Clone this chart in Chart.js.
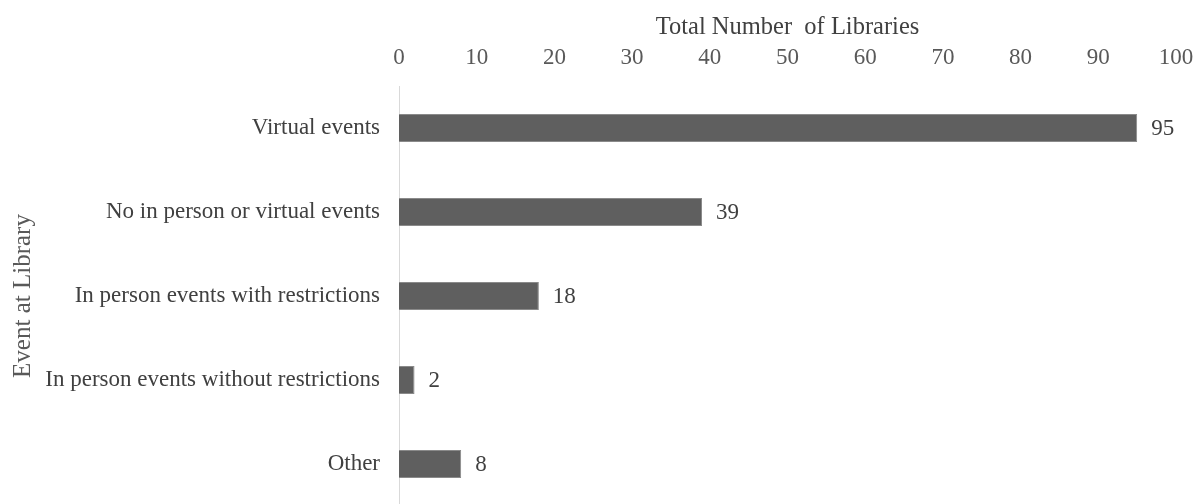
<!DOCTYPE html>
<html>
<head>
<meta charset="utf-8">
<script src="https://cdn.jsdelivr.net/npm/chart.js@4/dist/chart.umd.min.js"></script>
<style>
  html, body { margin: 0; padding: 0; background: #fff; overflow: hidden; }
  #wrap { width: 1197px; height: 508px; }
</style>
</head>
<body>
<div id="wrap"><canvas id="eventsChart"></canvas></div>
<script>
const categories = [
    'Virtual events',
    'No in person or virtual events',
    'In person events with restrictions',
    'In person events without restrictions',
    'Other'
];
const libraryCounts = [95, 39, 18, 2, 8];
const axisMin = 0;
const axisMax = 100;
const axisStep = 10;

const serif = 'Liberation Serif, Times New Roman, serif';
const textColor = '#595959';

// writes each bar's value just past its end
const valueLabels = {
    id: 'valueLabels',
    afterDatasetsDraw(chart) {
        const ctx = chart.ctx;
        const meta = chart.getDatasetMeta(0);
        ctx.save();
        ctx.font = '23px ' + serif;
        ctx.fillStyle = '#404040';
        ctx.textAlign = 'left';
        ctx.textBaseline = 'middle';
        meta.data.forEach((bar, i) => {
            ctx.fillText(String(libraryCounts[i]), bar.x + 14, bar.y + 1);
        });
        ctx.restore();
    }
};

// fixed axis boxes, no extra overhang padding from the tick labels
function fixBox(width, height) {
    return function (scale) {
        if (width) scale.width = width;
        if (height) scale.height = height;
        scale.paddingLeft = 0;
        scale.paddingRight = 0;
        scale.paddingTop = 0;
        scale.paddingBottom = 0;
    };
}

const ctxEvents = document.getElementById('eventsChart').getContext('2d');
const eventsChart = new Chart(ctxEvents, {
    type: 'bar',
    data: {
        labels: categories,
        datasets: [{
            label: 'Total Number of Libraries',
            data: libraryCounts,
            backgroundColor: '#5f5f5f',
            borderColor: '#8a8a8a',
            borderWidth: 1,
            categoryPercentage: 1,
            barPercentage: 0.333
        }]
    },
    options: {
        indexAxis: 'y',
        responsive: true,
        maintainAspectRatio: false,
        animation: false,
        layout: { padding: { top: 0, right: 21, bottom: 2, left: 0 } },
        plugins: {
            legend: { display: false },
            tooltip: { enabled: false }
        },
        scales: {
            x: {
                position: 'top',
                min: axisMin,
                max: axisMax,
                ticks: {
                    stepSize: axisStep,
                    color: textColor,
                    padding: 14,
                    font: { family: serif, size: 23 }
                },
                grid: { display: false, drawTicks: false },
                border: { display: false },
                title: {
                    display: true,
                    text: 'Total Number  of Libraries',
                    color: '#404040',
                    font: { family: serif, size: 24.5 },
                    padding: { top: 13, bottom: 0 }
                },
                afterFit: fixBox(0, 86)
            },
            y: {
                ticks: {
                    color: '#404040',
                    padding: 19,
                    font: { family: serif, size: 23 }
                },
                grid: { display: false, drawTicks: false },
                border: { display: true, color: '#d9d9d9', width: 1 },
                title: {
                    display: true,
                    text: 'Event at Library',
                    color: textColor,
                    font: { family: serif, size: 25 },
                    padding: { top: 8, bottom: 0 }
                },
                afterFit: fixBox(399, 0)
            }
        }
    },
    plugins: [valueLabels]
});
</script>
</body>
</html>
